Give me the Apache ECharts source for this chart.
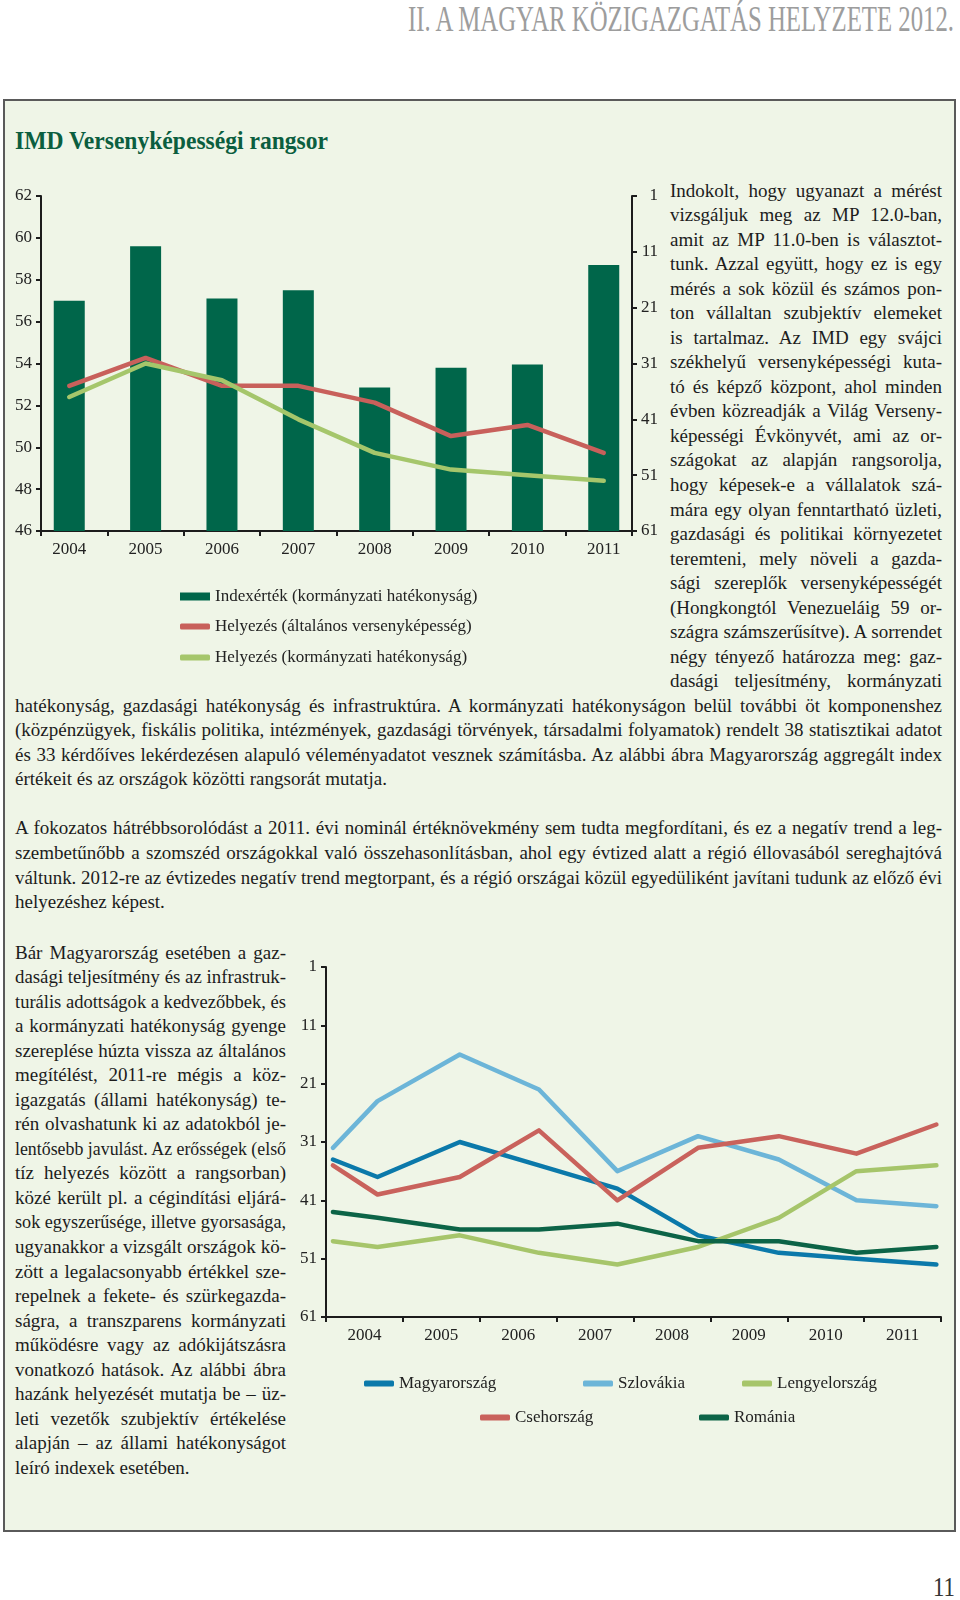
<!DOCTYPE html>
<html><head><meta charset="utf-8">
<script src="https://cdn.jsdelivr.net/npm/echarts@6/dist/echarts.min.js"></script>
<style>
html,body{margin:0;padding:0;background:#fff;}
body{width:960px;height:1600px;position:relative;overflow:hidden;font-family:"Liberation Serif","DejaVu Serif",serif;color:#1e1e1e;}
#box{position:absolute;left:3px;top:99px;width:953px;height:1433px;border:2px solid #5a5a5a;background:#eff5e7;box-sizing:border-box;}
.ln{position:absolute;white-space:nowrap;display:inline-block;line-height:24px;font-size:19px;color:#1c1c1c;}
#chart{position:absolute;left:0;top:0;width:960px;height:1600px;z-index:3;}
</style></head>
<body>
<div id="box"></div>
<div id="chart"></div>
<script>
// ---------- chart 1 data ----------
const years1 = ['2004','2005','2006','2007','2008','2009','2010','2011'];
const indexValues = [57.0, 59.6, 57.1, 57.5, 52.85, 53.8, 53.95, 58.7];
const rankOverall = [35, 30, 35, 35, 38, 44, 42, 47];
const rankGov = [37, 31, 34, 41, 47, 50, 51, 52];
const rankTicks = [1, 11, 21, 31, 41, 51, 61];
const legend1 = ['Indexérték (kormányzati hatékonyság)', 'Helyezés (általános versenyképesség)', 'Helyezés (kormányzati hatékonyság)'];

// ---------- chart 2 data ----------
const years2 = ['2004','2005','2006','2007','2008','2009','2010','2011'];
const pointYears = [2003.59, 2004.17, 2005.24, 2006.27, 2007.29, 2008.34, 2009.39, 2010.40, 2011.44];
const hu = [34, 37, 31, 35, 39, 47, 50, 51, 52];
const sk = [32, 24, 16, 22, 36, 30, 34, 41, 42];
const pl = [48, 49, 47, 50, 52, 49, 44, 36, 35];
const cz = [35, 40, 37, 29, 41, 32, 30, 33, 28];
const ro = [43, 44, 46, 46, 45, 48, 48, 50, 49];
const names2 = ['Magyarország', 'Szlovákia', 'Lengyelország', 'Csehország', 'Románia'];

// ---------- text ----------
const headerText = 'II. A MAGYAR KÖZIGAZGATÁS HELYZETE 2012.';
const titleText = 'IMD Versenyképességi rangsor';
const rightCol = [
'Indokolt, hogy ugyanazt a mérést',
'vizsgáljuk meg az MP 12.0-ban,',
'amit az MP 11.0-ben is választot-',
'tunk. Azzal együtt, hogy ez is egy',
'mérés a sok közül és számos pon-',
'ton vállaltan szubjektív elemeket',
'is tartalmaz. Az IMD egy svájci',
'székhelyű versenyképességi kuta-',
'tó és képző központ, ahol minden',
'évben közreadják a Világ Verseny-',
'képességi Évkönyvét, ami az or-',
'szágokat az alapján rangsorolja,',
'hogy képesek-e a vállalatok szá-',
'mára egy olyan fenntartható üzleti,',
'gazdasági és politikai környezetet',
'teremteni, mely növeli a gazda-',
'sági szereplők versenyképességét',
'(Hongkongtól Venezueláig 59 or-',
'szágra számszerűsítve). A sorrendet',
'négy tényező határozza meg: gaz-',
'dasági teljesítmény, kormányzati'];
const wide1 = [
'hatékonyság, gazdasági hatékonyság és infrastruktúra. A kormányzati hatékonyságon belül további öt komponenshez',
'(közpénzügyek, fiskális politika, intézmények, gazdasági törvények, társadalmi folyamatok) rendelt 38 statisztikai adatot',
'és 33 kérdőíves lekérdezésen alapuló véleményadatot vesznek számításba. Az alábbi ábra Magyarország aggregált index',
'értékeit és az országok közötti rangsorát mutatja.'];
const wide2 = [
'A fokozatos hátrébbsorolódást a 2011. évi nominál értéknövekmény sem tudta megfordítani, és ez a negatív trend a leg-',
'szembetűnőbb a szomszéd országokkal való összehasonlításban, ahol egy évtized alatt a régió éllovasából sereghajtóvá',
'váltunk. 2012-re az évtizedes negatív trend megtorpant, és a régió országai közül egyedüliként javítani tudunk az előző évi',
'helyezéshez képest.'];
const leftCol = [
'Bár Magyarország esetében a gaz-',
'dasági teljesítmény és az infrastruk-',
'turális adottságok a kedvezőbbek, és',
'a kormányzati hatékonyság gyenge',
'szereplése húzta vissza az általános',
'megítélést, 2011-re mégis a köz-',
'igazgatás (állami hatékonyság) te-',
'rén olvashatunk ki az adatokból je-',
'lentősebb javulást. Az erősségek (első',
'tíz helyezés között a rangsorban)',
'közé került pl. a cégindítási eljárá-',
'sok egyszerűsége, illetve gyorsasága,',
'ugyanakkor a vizsgált országok kö-',
'zött a legalacsonyabb értékkel sze-',
'repelnek a fekete- és szürkegazda-',
'ságra, a transzparens kormányzati',
'működésre vagy az adókijátszásra',
'vonatkozó hatások. Az alábbi ábra',
'hazánk helyezését mutatja be – üz-',
'leti vezetők szubjektív értékelése',
'alapján – az állami hatékonyságot',
'leíró indexek esetében.'];

function addLine(text, x, cy, w, justify, extra){
  const d = document.createElement('div');
  d.className = 'ln';
  d.textContent = text;
  if (extra) Object.assign(d.style, extra);
  const lh = (extra && extra.lineHeight) ? parseFloat(extra.lineHeight) : 24;
  d.style.left = x + 'px';
  d.style.top = (cy - lh/2 - 1.5) + 'px';
  document.body.appendChild(d);
  const nat = d.getBoundingClientRect().width;
  const spaces = (text.match(/ /g) || []).length;
  if (justify === 'fit' || nat > w) {
    d.style.transformOrigin = 'left center';
    d.style.transform = 'scaleX(' + (w / nat) + ')';
  } else if (justify && spaces) {
    d.style.wordSpacing = ((w - nat) / spaces) + 'px';
  }
  return d;
}
const LS = 24.54;
rightCol.forEach((t,i)=>addLine(t, 670, 192 + LS*i, 272, true));
wide1.forEach((t,i)=>addLine(t, 15, 707.3 + LS*i, 927, i < wide1.length-1));
wide2.forEach((t,i)=>addLine(t, 15, 829.5 + 24.75*i, 927, i < wide2.length-1));
leftCol.forEach((t,i)=>addLine(t, 15, 954 + LS*i, 271, i < leftCol.length-1));
addLine(headerText, 408, 21, 546, 'fit', {fontSize:'35px', lineHeight:'35px', color:'#9d9d9d'});
addLine(titleText, 15, 142, 313, 'fit', {fontSize:'26px', lineHeight:'26px', color:'#0b5e3f', fontWeight:'bold'});
addLine('11', 933, 1589, 22, false, {fontSize:'27px', lineHeight:'27px', color:'#333'});

// ---------- ECharts ----------
const serif = 'Liberation Serif';
const axisCol = '#1c1c1c';
const labelStyle = {fontFamily: serif, fontSize: 17, color: '#222'};
const c1Min = 2003.63, c1Max = 2011.37;
const c1Ticks = [c1Min].concat(years1.slice(0, -1).map(y => +y + 0.5)).concat([c1Max]);
const c2Min = 2003.5, c2Max = 2011.5;
const c2Ticks = [c2Min].concat(years2.map(y => +y + 0.5));

function axisBase(){
  return {
    splitLine: {show: false},
    axisLine: {show: true, onZero: false, lineStyle: {color: axisCol, width: 2}},
    axisTick: {show: true, length: 5, lineStyle: {color: axisCol, width: 2}}
  };
}
const col = {
  bar: '#00664a', red1: '#c8605b', green1: '#a5c66b',
  hu: '#0b79aa', sk: '#6cb5d8', pl: '#a6c56a', cz: '#c9625c', ro: '#0c6447'
};

const chart = echarts.init(document.getElementById('chart'));
const lineSeries = (name, xs, ys, color, xi, yi) => ({
  name, type: 'line', xAxisIndex: xi, yAxisIndex: yi, showSymbol: false, symbol: 'none',
  data: xs.map((x, i) => [x, ys[i]]), color,
  lineStyle: {width: 4.5, color, cap: 'round', join: 'round'}, z: 3
});
const mkLegend = (name, left, top, icon, h) => ({
  data: [name], left, top, icon, itemWidth: 30, itemHeight: h, itemGap: 0,
  textStyle: {fontFamily: serif, fontSize: 17, color: '#222'}, selectedMode: false
});

chart.setOption({
  animation: false,
  textStyle: {fontFamily: serif},
  grid: [
    {left: 41, top: 196, width: 591, height: 335},
    {left: 326, top: 967, width: 615, height: 350}
  ],
  xAxis: [
    Object.assign(axisBase(), {gridIndex: 0, type: 'value', min: c1Min, max: c1Max,
      axisTick: {show: true, length: 5, customValues: c1Ticks, lineStyle: {color: axisCol, width: 2}},
      axisLabel: Object.assign({customValues: years1.map(Number), formatter: v => String(Math.round(v)), margin: 10}, labelStyle)}),
    Object.assign(axisBase(), {gridIndex: 1, type: 'value', min: c2Min, max: c2Max,
      axisTick: {show: true, length: 5, customValues: c2Ticks, lineStyle: {color: axisCol, width: 2}},
      axisLabel: Object.assign({customValues: years2.map(Number), formatter: v => String(Math.round(v)), margin: 10}, labelStyle)})
  ],
  yAxis: [
    Object.assign(axisBase(), {gridIndex: 0, type: 'value', position: 'left', min: 46, max: 62, interval: 2,
      axisLabel: Object.assign({margin: 9}, labelStyle)}),
    Object.assign(axisBase(), {gridIndex: 0, type: 'value', position: 'right', inverse: true, min: 1, max: 61,
      axisTick: {show: true, length: 5, customValues: rankTicks, lineStyle: {color: axisCol, width: 2}},
      axisLabel: Object.assign({customValues: rankTicks, align: 'right', margin: 26}, labelStyle)}),
    Object.assign(axisBase(), {gridIndex: 1, type: 'value', position: 'left', inverse: true, min: 1, max: 61,
      axisTick: {show: true, length: 5, customValues: rankTicks, lineStyle: {color: axisCol, width: 2}},
      axisLabel: Object.assign({customValues: rankTicks, margin: 9}, labelStyle)})
  ],
  legend: [
    mkLegend(legend1[0], 175, 583, 'rect', 8),
    mkLegend(legend1[1], 175, 613, 'roundRect', 6),
    mkLegend(legend1[2], 175, 644, 'roundRect', 6),
    mkLegend(names2[0], 359, 1370, 'roundRect', 6),
    mkLegend(names2[1], 578, 1370, 'roundRect', 6),
    mkLegend(names2[2], 737, 1370, 'roundRect', 6),
    mkLegend(names2[3], 475, 1404, 'roundRect', 6),
    mkLegend(names2[4], 694, 1404, 'roundRect', 6)
  ],
  series: [
    {name: legend1[0], type: 'bar', xAxisIndex: 0, yAxisIndex: 0, barWidth: 31, color: col.bar,
     itemStyle: {color: col.bar}, data: years1.map((y, i) => [+y, indexValues[i]]), z: 2},
    lineSeries(legend1[1], years1.map(Number), rankOverall, col.red1, 0, 1),
    lineSeries(legend1[2], years1.map(Number), rankGov, col.green1, 0, 1),
    lineSeries(names2[0], pointYears, hu, col.hu, 1, 2),
    lineSeries(names2[1], pointYears, sk, col.sk, 1, 2),
    lineSeries(names2[2], pointYears, pl, col.pl, 1, 2),
    lineSeries(names2[3], pointYears, cz, col.cz, 1, 2),
    lineSeries(names2[4], pointYears, ro, col.ro, 1, 2)
  ]
});
</script>
</body></html>
